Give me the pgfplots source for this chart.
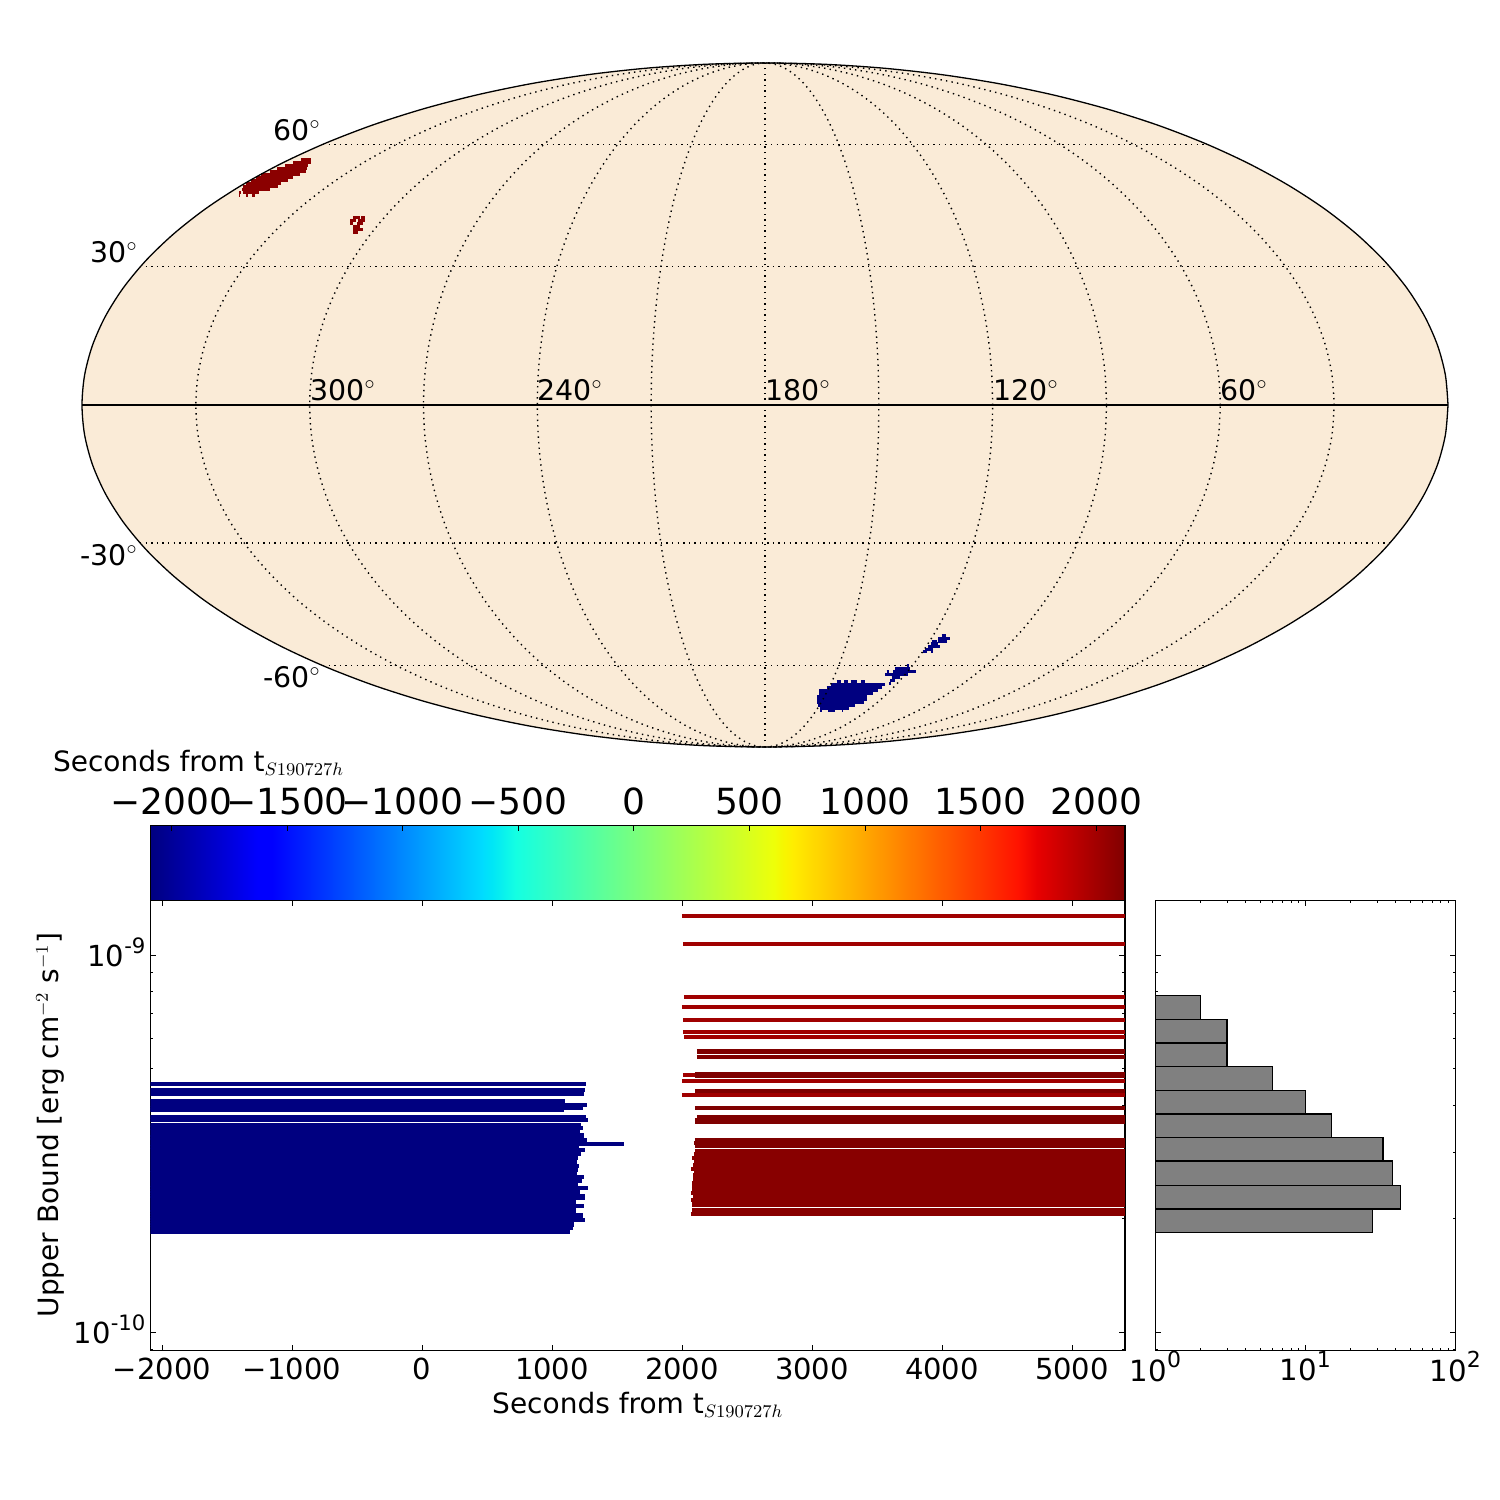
\documentclass[border=0pt]{standalone}
\usepackage{pgfplots}
\pgfplotsset{compat=1.18}
\usepackage{pgfplotstable}
\usepackage{fontspec}
\setmainfont{DejaVu Sans}
\definecolor{mollbg}{HTML}{FAEBD7}
\definecolor{mapred}{HTML}{8B0000}
\definecolor{mapblue}{HTML}{000080}
\definecolor{barlight}{HTML}{A00000}
\definecolor{bardark}{HTML}{7F0000}
\definecolor{barblock}{HTML}{880000}
\definecolor{histgray}{HTML}{808080}
\DeclareMathSizes{14}{14}{9}{7}
\newcommand\fa{\fontsize{14}{16}\selectfont}
\newcommand\fd{\fontsize{14.5}{16}\selectfont}
\newcommand\fm{\fontsize{14.2}{16}\selectfont}
\newcommand\fb{\fontsize{18}{21}\selectfont}
\newcommand\fc{\fontsize{14.6}{18}\selectfont}
\newcommand\ylab[1]{10\raisebox{.45em}{\fontsize{10.6}{11}\selectfont #1}}
\newcommand\xlab[1]{10\raisebox{.45em}{\fontsize{11}{12}\selectfont #1}}
\pgfdeclarehorizontalshading{mpljet}{100bp}{rgb(0bp)=(0,0,.5); rgb(25bp)=(0,0,.5); rgb(30.5bp)=(0,0,1); rgb(31.25bp)=(0,0,1); rgb(42bp)=(0,.86,1); rgb(42.5bp)=(0,.9,.968); rgb(43.75bp)=(.08,1,.887); rgb(57bp)=(.935,1,.032); rgb(57.5bp)=(.968,.963,0); rgb(58bp)=(1,.926,0); rgb(69.5bp)=(1,.074,0); rgb(70.5bp)=(.909,0,0); rgb(75bp)=(.5,0,0); rgb(100bp)=(.5,0,0)}

% unit circle, scaled onto the meridians of the Mollweide map
\pgfplotstableread{
c s
1.0000 0.0000
0.9962 0.0872
0.9848 0.1736
0.9659 0.2588
0.9397 0.3420
0.9063 0.4226
0.8660 0.5000
0.8192 0.5736
0.7660 0.6428
0.7071 0.7071
0.6428 0.7660
0.5736 0.8192
0.5000 0.8660
0.4226 0.9063
0.3420 0.9397
0.2588 0.9659
0.1736 0.9848
0.0872 0.9962
0.0000 1.0000
-0.0872 0.9962
-0.1736 0.9848
-0.2588 0.9659
-0.3420 0.9397
-0.4226 0.9063
-0.5000 0.8660
-0.5736 0.8192
-0.6428 0.7660
-0.7071 0.7071
-0.7660 0.6428
-0.8192 0.5736
-0.8660 0.5000
-0.9063 0.4226
-0.9397 0.3420
-0.9659 0.2588
-0.9848 0.1736
-0.9962 0.0872
-1.0000 0.0000
-0.9962 -0.0872
-0.9848 -0.1736
-0.9659 -0.2588
-0.9397 -0.3420
-0.9063 -0.4226
-0.8660 -0.5000
-0.8192 -0.5736
-0.7660 -0.6428
-0.7071 -0.7071
-0.6428 -0.7660
-0.5736 -0.8192
-0.5000 -0.8660
-0.4226 -0.9063
-0.3420 -0.9397
-0.2588 -0.9659
-0.1736 -0.9848
-0.0872 -0.9962
0.0000 -1.0000
0.0872 -0.9962
0.1736 -0.9848
0.2588 -0.9659
0.3420 -0.9397
0.4226 -0.9063
0.5000 -0.8660
0.5736 -0.8192
0.6428 -0.7660
0.7071 -0.7071
0.7660 -0.6428
0.8192 -0.5736
0.8660 -0.5000
0.9063 -0.4226
0.9397 -0.3420
0.9659 -0.2588
0.9848 -0.1736
0.9962 -0.0872
1.0000 0.0000
}\circletab

% map pixels, rows: start, end, y
\pgfplotstableread{
a b y
-464 -454 245.5
-472 -454 242.5
-480 -457 239.5
-488 -458 236.5
-495 -459 233.5
-504 -465 230.5
-509 -472 227.5
-514 -477 224.5
-519 -484 221.5
-522 -487 218.5
-523 -495 215.5
-526 -524 212.5
-522 -506 212.5
-526 -525 209.5
-519 -517 209.5
-513 -510 209.5
-412 -405 187.5
-404 -400 187.5
-415 -409 184.5
-407 -400 184.5
-415 -412 181.5
-408 -402 181.5
-412 -405 178.5
-412 -402 175.5
-412 -407 172
}\redmap
\pgfplotstableread{
a b y
71.7 75.7 -276.3
79 83.3 -276.3
85.7 91.7 -276.3
96 100 -276.3
66 120 -279.3
61.5 117 -282.3
54 112.5 -285.3
54 107.5 -288.3
52 102 -291.3
52 102 -294.3
52 99 -297.3
53 90 -300.3
54.5 84 -303.3
55 56.7 -306
63.3 70 -306
76.7 77.7 -306
141.7 143.7 -261
130 145 -264
121.7 124.3 -267
128.3 151 -267
120 143 -270
126.7 135 -273
125 130 -276
124 126 -279
176.7 181 -231
173.3 185 -233.7
166.7 172.3 -236.3
173.3 181.7 -236.3
165.7 173.3 -239
163.3 175 -241.7
160 168.3 -244.3
157.7 161.7 -247
166 167.7 -247
}\bluemap

% upper limits: before the event (end time, limit)
\pgfplotstableread{
e y
1262 4.55e-10
1254 4.39e-10
1246 4.28e-10
1100 4.10e-10
1269 4.00e-10
1238 3.93e-10
1092 3.89e-10
1262 3.72e-10
1277 3.66e-10
1223 3.54e-10
1238 3.48e-10
1212 3.41e-10
1246 3.33e-10
1246 3.28e-10
1269 3.23e-10
1554 3.15e-10
1208 3.09e-10
1254 3.04e-10
1223 2.97e-10
1200 2.89e-10
1192 2.83e-10
1208 2.76e-10
1200 2.69e-10
1192 2.64e-10
1246 2.58e-10
1231 2.52e-10
1200 2.46e-10
1277 2.41e-10
1215 2.37e-10
1215 2.34e-10
1254 2.30e-10
1254 2.27e-10
1185 2.21e-10
1246 2.16e-10
1185 2.11e-10
1185 2.08e-10
1238 2.04e-10
1238 2.01e-10
1254 1.98e-10
1169 1.95e-10
1169 1.92e-10
1162 1.89e-10
1138 1.84e-10
}\bluebars
% after the event (start time, limit)
\pgfplotstableread{
s y
2000 1.269e-9
2008 1.070e-9
2015 7.74e-10
2000 7.28e-10
2008 6.72e-10
2008 6.25e-10
2015 6.06e-10
2008 4.81e-10
2000 4.63e-10
2000 4.25e-10
}\lightbars
\pgfplotstableread{
s y
2115 5.55e-10
2115 5.36e-10
2100 4.84e-10
2100 4.78e-10
2100 4.36e-10
2100 3.93e-10
2115 3.72e-10
2100 3.66e-10
2100 3.61e-10
2100 3.23e-10
2092 3.17e-10
2100 3.11e-10
}\darkbars
\pgfplotstableread{
s y
2100 3.02e-10
2092 2.96e-10
2077 2.89e-10
2092 2.83e-10
2085 2.77e-10
2069 2.71e-10
2092 2.66e-10
2085 2.60e-10
2085 2.55e-10
2077 2.49e-10
2077 2.44e-10
2077 2.39e-10
2069 2.34e-10
2085 2.29e-10
2069 2.24e-10
2077 2.20e-10
2077 2.17e-10
2077 2.11e-10
2069 2.06e-10
}\blockbars

\pgfplotsset{
  ax/.style={scale only axis, anchor=south west,
    axis line style={black,line width=.65pt},
    tick style={black,line width=.35pt},
    major tick length=2.8pt, minor tick length=1.4pt,
    tick align=inside, tick pos=both},
  hseg/.style n args={3}{draw=none, mark=none, forget plot,
    error bars/.cd, x dir=#3, x explicit, error mark=none,
    error bar style={solid, line width=#1, color=#2}},
  histbar/.style={fill=histgray, draw=black, line width=.65pt, forget plot},
  grat/.style={black, line width=.7pt, dash pattern=on .7pt off 2.1pt, forget plot},
}
\begin{document}
\begin{tikzpicture}[x=1pt,y=1pt]
\path[use as bounding box] (0,0) rectangle (750,750);

% ---------- sky map ----------
\begin{axis}[scale only axis, anchor=south west, at={(41pt,376.5pt)},
  width=683pt, height=342pt, xmin=-683, xmax=683, ymin=-342, ymax=342,
  hide axis, clip=false]
\addplot[fill=mollbg, draw=none, smooth, forget plot] table[x expr=683*\thisrow{c}, y expr=342*\thisrow{s}] {\circletab};
\addplot[hseg={1.5pt}{mapred}{plus}] table[x=a, y=y, x error expr=\thisrow{b}-\thisrow{a}] {\redmap};
\addplot[hseg={1.5pt}{mapblue}{plus}] table[x=a, y=y, x error expr=\thisrow{b}-\thisrow{a}] {\bluemap};
\pgfplotsinvokeforeach{1,2,3,4,5}{
  \addplot[grat, smooth]
    table[x expr=#1*113.833*\thisrow{c}, y expr=342*\thisrow{s}] {\circletab};
}
\addplot[grat] coordinates {(0,-342)(0,342)};
\addplot[grat] coordinates {(-625,138.2)(625,138.2)};
\addplot[grat] coordinates {(-625,-138.2)(625,-138.2)};
\addplot[grat] coordinates {(-442,260.7)(442,260.7)};
\addplot[grat] coordinates {(-442,-260.7)(442,-260.7)};
\addplot[black, line width=.55pt, forget plot] coordinates {(-683,0)(683,0)};
\addplot[black, line width=.65pt, smooth, forget plot] table[x expr=683*\thisrow{c}, y expr=342*\thisrow{s}] {\circletab};
\node[font=\fm] at (axis cs:-468,275) {60$^\circ$};
\node[font=\fm] at (axis cs:-651,153) {30$^\circ$};
\node[font=\fm] at (axis cs:-656,-150) {-30$^\circ$};
\node[font=\fm] at (axis cs:-473,-272) {-60$^\circ$};
\node[font=\fm] at (axis cs:-422,15) {300$^\circ$};
\node[font=\fm] at (axis cs:-195,15) {240$^\circ$};
\node[font=\fm] at (axis cs:33,15) {180$^\circ$};
\node[font=\fm] at (axis cs:261,15) {120$^\circ$};
\node[font=\fm] at (axis cs:479,15) {60$^\circ$};
\end{axis}

% ---------- colour bar ----------
\begin{axis}[ax, at={(75.25pt,299.75pt)}, width=487.25pt, height=37.5pt,
  xmin=-2090, xmax=2124, ymin=0, ymax=1, ytick=\empty, axis on top,
  xtick={-2000,-1500,-1000,-500,0,500,1000,1500,2000},
  xticklabels={−2000,−1500,−1000,−500,0,500,1000,1500,2000},
  xtick pos=top, xticklabel pos=top,
  xticklabel style={font=\fb, yshift=1.5pt}]
\shade[shading=mpljet] (rel axis cs:0,0) rectangle (rel axis cs:1,1);
\end{axis}
\node[font=\fa, anchor=west] at (23pt,368.5pt) {Seconds from t$_{S190727h}$};

% ---------- main panel ----------
\begin{axis}[ax, at={(75.25pt,74.75pt)}, width=487.25pt, height=225pt,
  xmin=-2088, xmax=5408, ymode=log, ymin=8.93e-11, ymax=1.395e-9,
  xtick={-2000,-1000,0,1000,2000,3000,4000,5000},
  xticklabels={−2000,−1000,0,1000,2000,3000,4000,5000},
  ytick={1e-10,1e-9}, yticklabels={\ylab{-10},\ylab{-9}},
  minor ytick={9e-11,2e-10,3e-10,4e-10,5e-10,6e-10,7e-10,8e-10,9e-10},
  ticklabel style={font=\fd},
  yticklabel style={xshift=1pt, yshift=1.2pt},
  xlabel={Seconds from t$_{S190727h}$},
  ylabel={Upper Bound [erg cm$^{-2}$ s$^{-1}$]},
  xlabel style={font=\fa, at={(axis description cs:.5,-.121)}, anchor=center},
  ylabel style={font=\fa, at={(axis description cs:-.103,.501)}, anchor=center}]
\addplot[hseg={2.1pt}{mapblue}{minus}] table[x=e, y=y, x error expr=\thisrow{e}+2088] {\bluebars};
\addplot[hseg={2.1pt}{barlight}{plus}] table[x=s, y=y, x error expr=5408-\thisrow{s}] {\lightbars};
\addplot[hseg={2.1pt}{bardark}{plus}] table[x=s, y=y, x error expr=5408-\thisrow{s}] {\darkbars};
\addplot[hseg={2.1pt}{barblock}{plus}] table[x=s, y=y, x error expr=5408-\thisrow{s}] {\blockbars};
\end{axis}

% ---------- histogram ----------
\begin{axis}[ax, at={(577.75pt,74.75pt)}, width=149.9pt, height=225pt,
  xmode=log, xmin=1, xmax=100, ymode=log, ymin=8.93e-11, ymax=1.395e-9,
  xtick={1,10,100}, xticklabels={\xlab{0},\xlab{1},\xlab{2}},
  minor xtick={2,3,4,5,6,7,8,9,20,30,40,50,60,70,80,90},
  ytick={1e-10,1e-9}, yticklabels={},
  minor ytick={9e-11,2e-10,3e-10,4e-10,5e-10,6e-10,7e-10,8e-10,9e-10},
  xticklabel style={font=\fc, yshift=3pt}]
\addplot[histbar] coordinates {(1,7.80e-10)(2,7.80e-10)(2,6.75e-10)(1,6.75e-10)} --cycle;
\addplot[histbar] coordinates {(1,6.75e-10)(3,6.75e-10)(3,5.84e-10)(1,5.84e-10)} --cycle;
\addplot[histbar] coordinates {(1,5.84e-10)(3,5.84e-10)(3,5.06e-10)(1,5.06e-10)} --cycle;
\addplot[histbar] coordinates {(1,5.06e-10)(6,5.06e-10)(6,4.38e-10)(1,4.38e-10)} --cycle;
\addplot[histbar] coordinates {(1,4.38e-10)(10,4.38e-10)(10,3.79e-10)(1,3.79e-10)} --cycle;
\addplot[histbar] coordinates {(1,3.79e-10)(15,3.79e-10)(15,3.28e-10)(1,3.28e-10)} --cycle;
\addplot[histbar] coordinates {(1,3.28e-10)(33,3.28e-10)(33,2.84e-10)(1,2.84e-10)} --cycle;
\addplot[histbar] coordinates {(1,2.84e-10)(38,2.84e-10)(38,2.45e-10)(1,2.45e-10)} --cycle;
\addplot[histbar] coordinates {(1,2.45e-10)(43,2.45e-10)(43,2.12e-10)(1,2.12e-10)} --cycle;
\addplot[histbar] coordinates {(1,2.12e-10)(28,2.12e-10)(28,1.84e-10)(1,1.84e-10)} --cycle;
\end{axis}
\end{tikzpicture}
\end{document}
